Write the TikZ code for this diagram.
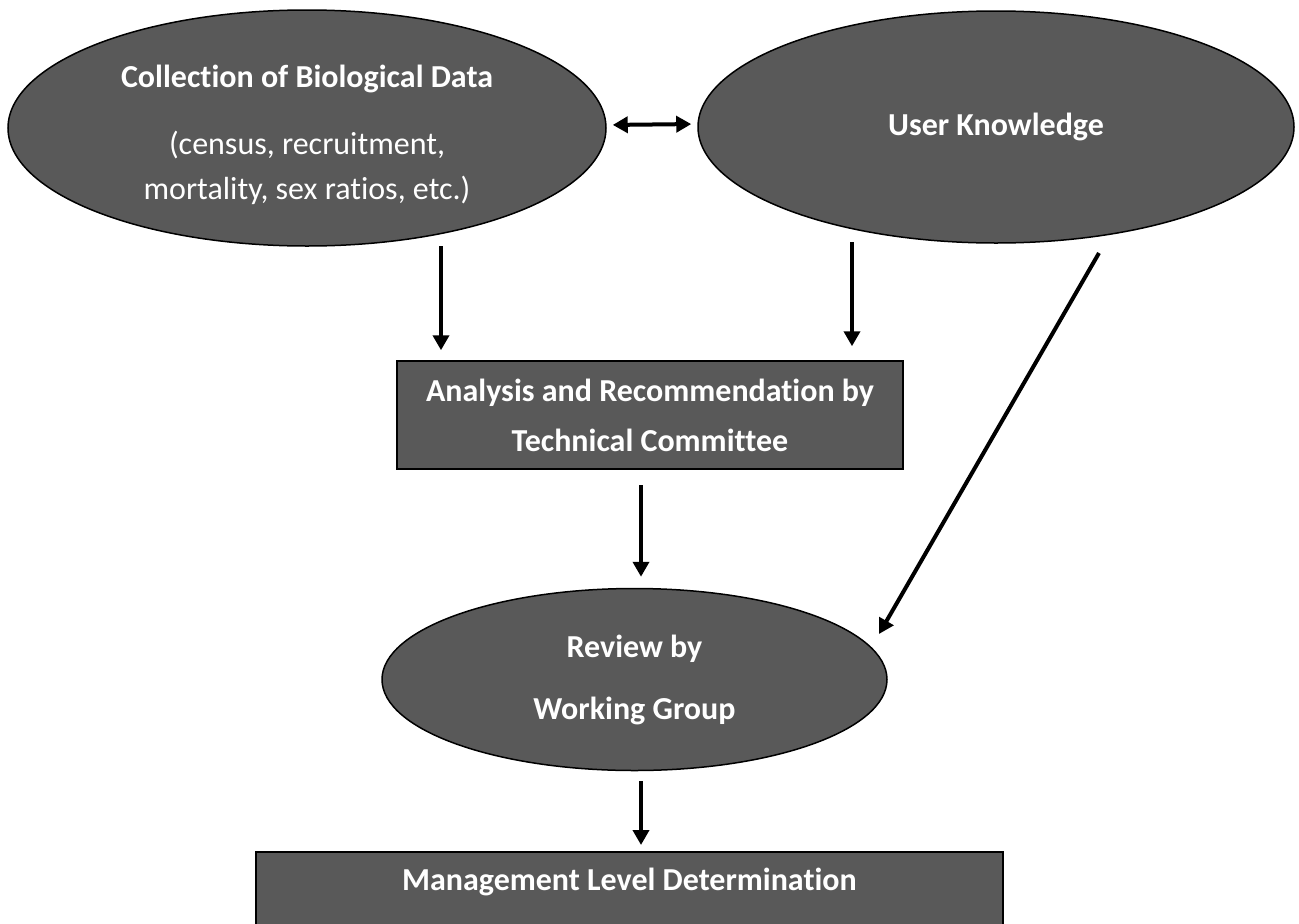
\documentclass[tikz,border=0pt]{standalone}
\usepackage{fontspec}
\setmainfont{Carlito}[Ligatures={NoCommon}]
\usetikzlibrary{arrows.meta,shapes.geometric}
\definecolor{fillgray}{HTML}{595959}
\begin{document}
\begin{tikzpicture}[x=1pt,y=-1pt,
  ovalnode/.style={ellipse, draw=black, line width=1.5pt, fill=fillgray, text=white, inner sep=0pt, align=center, font=\fontsize{32}{43}\selectfont},
  boxnode/.style={rectangle, draw=black, line width=1.5pt, fill=fillgray, text=white, inner sep=0pt, align=center, font=\fontsize{32}{43}\selectfont},
  arr/.style={line width=4pt, -{Triangle[width=16pt,length=15pt]}},
  darr/.style={line width=4pt, {Triangle[width=16pt,length=15pt]}-{Triangle[width=16pt,length=15pt]}}]
\useasboundingbox (0,0) rectangle (1299,924);

\node[ovalnode, font=\fontsize{32}{45}\selectfont, minimum width=598pt, minimum height=236pt] (bio) at (307,128)
  {\rule{0pt}{36pt}\textbf{Collection of Biological Data}\\[22pt](census, recruitment,\\mortality, sex ratios, etc.)};
\node[ovalnode, minimum width=596pt, minimum height=232pt] (user) at (996,127)
  {\textbf{User Knowledge}};
\node[boxnode, minimum width=506pt, minimum height=108pt] (ana) at (650,415)
  {\textbf{Analysis and Recommendation by}\\[7pt]\textbf{Technical Committee}};
\node[ovalnode, minimum width=505pt, minimum height=182pt] (rev) at (634.5,679.5)
  {\textbf{Review by}\\[19pt]\textbf{Working Group}};
\node[boxnode, anchor=north, minimum width=747pt, text height=39pt, text depth=50pt] (mgmt) at (629.5,851)
  {\textbf{Management Level Determination}};

\coordinate (c1) at (441,246);
\coordinate (c2) at (852,242);
\coordinate (c3) at (1099,253);
\coordinate (c4) at (879,634);
\coordinate (c5) at (641,485);
\coordinate (c6) at (641,781);

\draw[darr, shorten <=6pt, shorten >=6pt] ([yshift=3pt]bio.east) -- ([yshift=3pt]user.west);
\draw[arr, shorten >=10pt] (c1) -- (c1 |- ana.north);
\draw[arr, shorten >=14pt] (c2) -- (c2 |- ana.north);
\draw[arr] (c3) -- (c4);
\draw[arr, shorten >=11pt] (c5) -- (c5 |- rev.north);
\draw[arr, shorten >=6pt] (c6) -- (c6 |- mgmt.north);
\end{tikzpicture}
\end{document}
